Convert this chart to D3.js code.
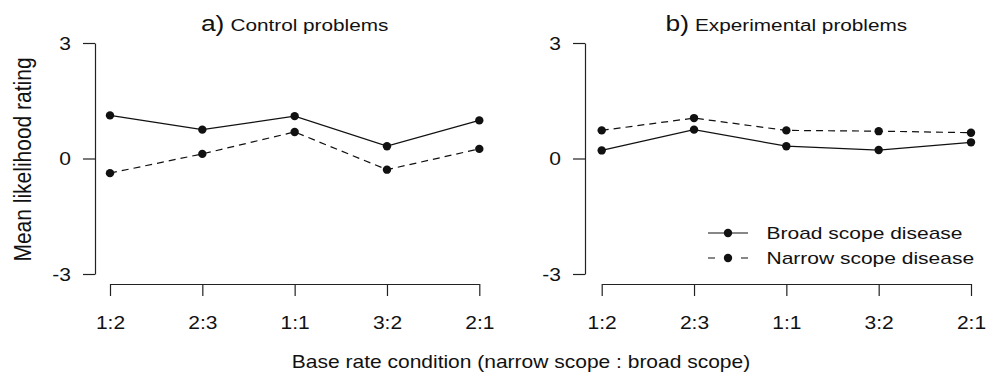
<!DOCTYPE html>
<html><head><meta charset="utf-8">
<script src="https://cdn.jsdelivr.net/npm/d3@7"></script>
<style>
html,body{margin:0;padding:0;background:#fff;}
svg{display:block;font-family:"Liberation Sans",Arial,Helvetica,sans-serif;}
</style></head>
<body>
<svg id="chart" width="995" height="377"></svg>
<script>
const categories = ["1:2","2:3","1:1","3:2","2:1"];
const yTicks = [-3, 0, 3];
const controlBroad  = [1.12, 0.75, 1.10, 0.32, 0.99];
const controlNarrow = [-0.38, 0.12, 0.69, -0.29, 0.25];
const expBroad  = [0.21, 0.75, 0.32, 0.22, 0.42];
const expNarrow = [0.73, 1.05, 0.73, 0.71, 0.67];
const panelTags = ["a)", "b)"];
const panelTitles = ["Control problems", "Experimental problems"];
const seriesNames = ["Broad scope disease", "Narrow scope disease"];
const xTitle = "Base rate condition (narrow scope : broad scope)";
const yTitle = "Mean likelihood rating";

const SX = 1.2; // horizontal stretch of text
const svg = d3.select("#chart");
const DASH = "7,5";
const INK = "#111";

const panels = [
  {yAxisX: 95, xr: [110, 479.3], data: [controlBroad, controlNarrow]},
  {yAxisX: 585, xr: [601.7, 971], data: [expBroad, expNarrow]}
];
const yTop = 43, yBot = 274, xAxisY = 284;

panels.forEach((p, i) => {
  const x = d3.scalePoint().domain(categories).range(p.xr);
  const y = d3.scaleLinear().domain([-3, 3]).range([yBot, yTop]);
  const g = svg.append("g");

  // y axis
  const ya = g.append("g").attr("transform", `translate(${p.yAxisX},0)`)
    .call(d3.axisLeft(y).tickValues(yTicks).tickFormat(d3.format("d")).tickSize(12).tickSizeOuter(0).tickPadding(12));
  ya.selectAll("text").each(function(){
    const t = d3.select(this);
    const xx = +t.attr("x");
    t.attr("x", 0).attr("dy", "0.36em")
     .attr("transform", `translate(${xx},0) scale(${SX},1)`)
     .attr("font-size", 17.5).attr("fill", INK)
     .text(d => d < 0 ? "-" + Math.abs(d) : d);
  });

  // x axis
  const xa = g.append("g").attr("transform", `translate(0,${xAxisY})`)
    .call(d3.axisBottom(x).tickSize(12).tickSizeOuter(0).tickPadding(21));
  xa.selectAll("text").attr("transform", `scale(${SX},1)`).attr("font-size", 17.5).attr("fill", INK);

  [ya, xa].forEach(a => {
    a.attr("font-family", null);
    a.selectAll("path.domain,line").attr("stroke", "#222").attr("stroke-width", 1.2);
  });

  // lines and points
  const line = d3.line().x((d, j) => x(categories[j])).y(d => y(d));
  p.data.forEach((vals, k) => {
    g.append("path").datum(vals).attr("d", line)
      .attr("fill", "none").attr("stroke", INK).attr("stroke-width", 1.2)
      .attr("stroke-dasharray", k === 1 ? DASH : null);
    g.selectAll(null).data(vals).enter().append("circle")
      .attr("cx", (d, j) => x(categories[j])).attr("cy", d => y(d))
      .attr("r", 4.2).attr("fill", INK);
  });

  // title
  const cx = (p.xr[0] + p.xr[1]) / 2;
  const tt = g.append("text").attr("text-anchor", "middle").attr("fill", INK)
    .attr("transform", `translate(${cx},31) scale(${SX},1)`);
  tt.append("tspan").attr("font-size", 22).text(panelTags[i]);
  tt.append("tspan").attr("font-size", 17.3).attr("dx", 5).text(panelTitles[i]);
});

// y title
svg.append("text").attr("text-anchor", "middle").attr("font-size", 21).attr("fill", INK)
  .attr("transform", `translate(31,159.5) scale(1.12,1) rotate(-90)`)
  .text(yTitle);

// x title
svg.append("text").attr("text-anchor", "middle").attr("font-size", 17.5).attr("fill", INK)
  .attr("transform", `translate(521,368) scale(${SX},1)`)
  .text(xTitle);

// legend
const legY = [233, 258];
const lg = svg.append("g");
seriesNames.forEach((name, k) => {
  lg.append("line").attr("x1", 708).attr("x2", 748).attr("y1", legY[k]).attr("y2", legY[k])
    .attr("stroke", INK).attr("stroke-width", 1.2)
    .attr("stroke-dasharray", k === 1 ? "7,26,7" : null);
  lg.append("circle").attr("cx", 728).attr("cy", legY[k]).attr("r", 4.2).attr("fill", INK);
  lg.append("text").attr("font-size", 16.8).attr("fill", INK).attr("dy", "0.36em")
    .attr("transform", `translate(766.5,${legY[k]}) scale(1.25,1)`)
    .text(name);
});
</script>
</body></html>
